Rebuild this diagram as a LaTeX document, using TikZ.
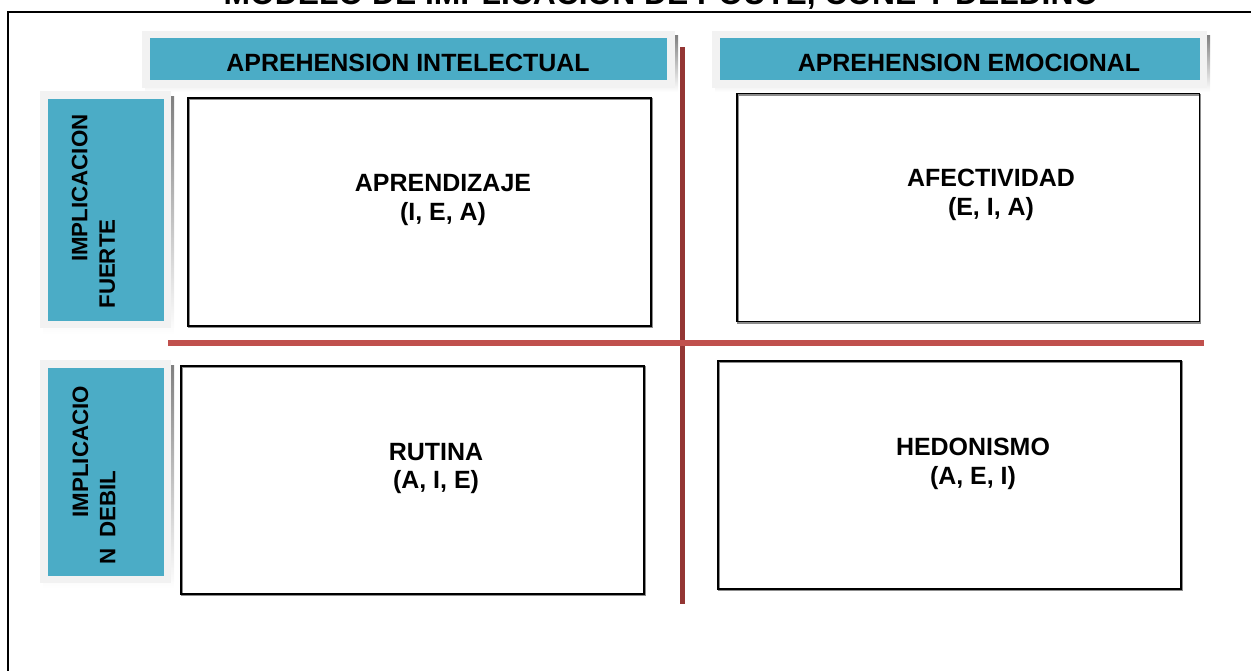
\documentclass[tikz,border=0pt]{standalone}
\usepackage{fontspec}
\setmainfont{Liberation Sans}
\usepackage{tikz}

\definecolor{aqua}{HTML}{4BACC6}
\definecolor{pale}{HTML}{F2F2F2}
\definecolor{shade}{HTML}{8FACB8}
\definecolor{redline}{HTML}{C0504D}
\definecolor{darkred}{HTML}{943634}

\begin{document}
\begin{tikzpicture}
      [x=0.02cm,y=-0.02cm,
       quad/.style={rectangle,draw=black,line width=1.1pt,minimum width=9.26cm,minimum height=4.56cm,inner sep=0pt,
         preaction={draw=black!45,line width=1.1pt,transform canvas={xshift=0.6pt,yshift=-0.6pt}}},
       quadtext/.style={align=center,font=\fontsize{14.2}{16.4}\selectfont\bfseries},
       head/.style={rectangle,fill=aqua,inner sep=0pt,minimum height=0.84cm},
       headtext/.style={font=\fontsize{14.2}{17}\selectfont\bfseries},
       side/.style={rectangle,fill=aqua,inner sep=0pt,minimum width=2.32cm},
       sidetext/.style={rotate=90,align=left,font=\fontsize{12.7}{15.6}\selectfont\bfseries}]
        \useasboundingbox (0,0) rectangle (1251,670);
        \clip (0,0) rectangle (1251,670);

        % title and frame
        \node[headtext,font=\fontsize{18.1}{20}\selectfont\bfseries,anchor=base] (title) at (661,4) {MODELO DE IMPLICACION DE POUTE, CONE Y DELDINO};
        \draw[line width=1.2pt] (8,700) -- (8,12) -- (1300,12);

        % headers
        \fill[shade] (145,35) rectangle (678,92);
        \fill[pale] (142,31) rectangle (675,88);
        \fill[shade] (715,35) rectangle (1210,92);
        \fill[pale] (712,31) rectangle (1207,88);
        \node[head,minimum width=10.34cm] (intel) at (408.5,59) {};
        \node[head,minimum width=9.6cm] (emoc) at (960,59) {};
        \node[headtext] (intel text) at (408,63) {APREHENSION INTELECTUAL};
        \node[headtext] (emoc text) at (969,63) {APREHENSION EMOCIONAL};

        % side labels
        \fill[shade] (43,96) rectangle (174,334);
        \fill[pale] (40,91) rectangle (171,328);
        \fill[shade] (43,365) rectangle (174,588);
        \fill[pale] (40,360) rectangle (171,583);
        \node[side,minimum height=4.44cm] (fuerte) at (106,210) {};
        \node[side,minimum height=4.16cm] (debil) at (106,472) {};
        \node[sidetext] (fuerte text) at (93.5,211.5) {\hspace*{26.6pt}IMPLICACION\\FUERTE};
        \node[sidetext] (debil text) at (94,475) {\hspace*{26.6pt}IMPLICACIO\\N\hspace{0.45em}DEBIL};

        % quadrants
        \node[quad] (apr) at (419.5,212) {};
        \node[quad] (afe) at (968,207.5) {};
        \node[quad] (rut) at (412.5,480) {};
        \node[quad] (hed) at (949.5,475) {};
        \node[quadtext] (apr text) at (443,200) {APRENDIZAJE\\(I, E, A)};
        \node[quadtext] (afe text) at (991,194.5) {AFECTIVIDAD\\(E, I, A)};
        \node[quadtext] (rut text) at (436,468.5) {RUTINA\\(A, I, E)};
        \node[quadtext] (hed text) at (973,463.5) {HEDONISMO\\(A, E, I)};

        % axes
        \coordinate (vtop) at (682.5,47);
        \coordinate (vbot) at (682.5,604);
        \coordinate (hleft) at (168,343);
        \coordinate (hright) at (1204,343);
        \draw[darkred,line width=3.4pt] (vtop) -- (vbot);
        \draw[redline,line width=3.4pt] (hleft) -- (hright);

      \end{tikzpicture}
\end{document}
